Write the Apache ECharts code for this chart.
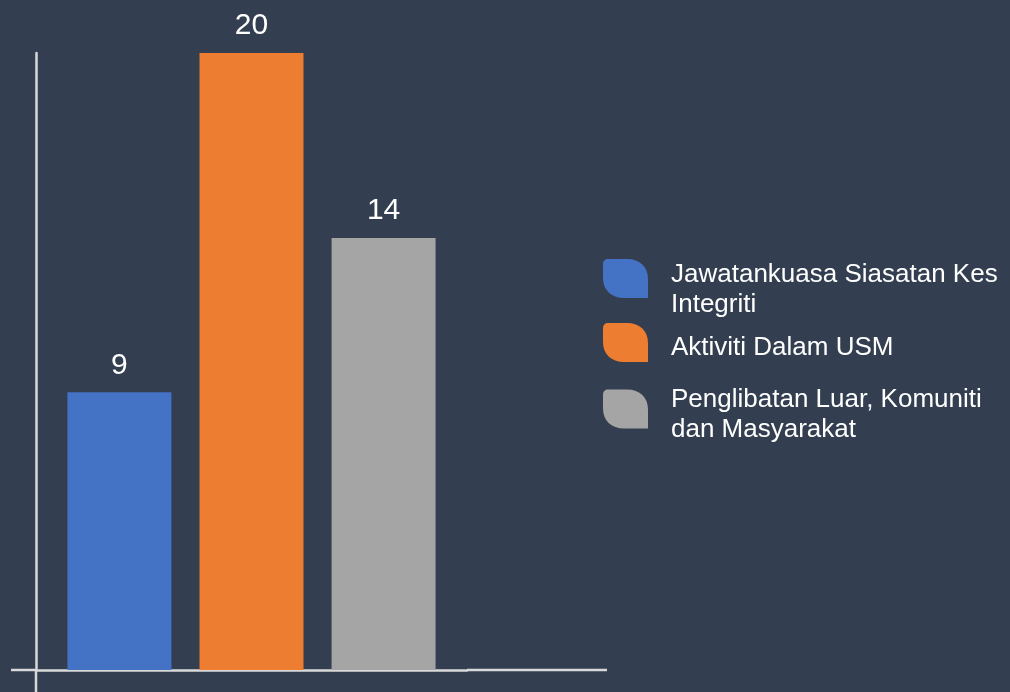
<!DOCTYPE html>
<html>
<head>
<meta charset="utf-8">
<script src="https://cdn.jsdelivr.net/npm/echarts@6/dist/echarts.min.js"></script>
<style>
html,body{margin:0;padding:0;background:#333F50;}
#chart{width:1010px;height:692px;}
</style>
</head>
<body>
<div id="chart"></div>
<script>
var categories = ['Jumlah'];
var seriesNames = ['Jawatankuasa Siasatan Kes Integriti', 'Aktiviti Dalam USM', 'Penglibatan Luar, Komuniti dan Masyarakat'];
var legendLabels = ['Jawatankuasa Siasatan Kes\nIntegriti', 'Aktiviti Dalam USM', 'Penglibatan Luar, Komuniti\ndan Masyarakat'];
var seriesValues = [[9], [20], [14]];
var seriesColors = ['#4472C4', '#ED7D31', '#A5A5A5'];

var GRID = {left: 36, right: 543, top: 53, bottom: 22};
var AXIS_COLOR = '#D9D9D9';
var AXIS_W = 2.5;
var FONT = 'Liberation Sans, Arial, sans-serif';
var iconShape = 'M5,0 L24,0 C37,0 45,8 45,20 L45,39 L21,39 C8,39 0,31 0,19 L0,5 C0,2 2,0 5,0 Z';

var chart = echarts.init(document.getElementById('chart'), null, {renderer: 'canvas'});

var series = seriesNames.map(function (n, i) {
  return {
    name: n,
    type: 'bar',
    data: seriesValues[i],
    barWidth: 104,
    barGap: '27%',
    itemStyle: {color: seriesColors[i]},
    label: {
      show: true,
      position: 'top',
      distance: 12,
      color: '#FFFFFF',
      fontSize: 30,
      fontFamily: FONT
    }
  };
});

// one legend block per series so each can sit where the original puts it;
// the icon box is taller than the drawn shape so the swatch sits a little
// above the centre of its label, as in the original
var legendTops = [259, 323, 385];
var legendBoxH = [61, 50, 51];
var legends = seriesNames.map(function (n, i) {
  return {
    orient: 'vertical',
    left: 603,
    top: legendTops[i],
    padding: 0,
    itemWidth: 45,
    itemHeight: legendBoxH[i],
    itemGap: 0,
    icon: 'path://' + iconShape + ' M0,' + legendBoxH[i],
    data: [n],
    formatter: function (name) { return legendLabels[seriesNames.indexOf(name)]; },
    textStyle: {
      color: '#FFFFFF',
      fontSize: 26,
      lineHeight: 30,
      fontFamily: FONT,
      padding: [0, 0, 0, 18]
    },
    selectedMode: false
  };
});

var option = {
  backgroundColor: '#333F50',
  animation: false,
  grid: GRID,
  legend: legends,
  xAxis: {
    type: 'category',
    data: categories,
    axisLine: {show: true, lineStyle: {color: AXIS_COLOR, width: AXIS_W}},
    axisTick: {show: false},
    axisLabel: {show: false},
    splitLine: {show: false}
  },
  yAxis: {
    type: 'value',
    min: 0,
    max: 20,
    axisLine: {show: true, lineStyle: {color: AXIS_COLOR, width: AXIS_W}},
    axisTick: {show: false},
    axisLabel: {show: false},
    splitLine: {show: false}
  },
  series: series
};
chart.setOption(option);

// axis-line extensions beyond the plot area (decorative, like the original)
var y0 = chart.convertToPixel({yAxisIndex: 0}, 0);
var gridRight = 1010 - GRID.right;
chart.setOption({
  graphic: [
    {type: 'line', shape: {x1: 11, y1: y0, x2: GRID.left, y2: y0}, style: {stroke: AXIS_COLOR, lineWidth: AXIS_W}, silent: true},
    {type: 'line', shape: {x1: gridRight, y1: y0, x2: 607, y2: y0}, style: {stroke: AXIS_COLOR, lineWidth: AXIS_W}, silent: true},
    {type: 'line', shape: {x1: GRID.left, y1: y0, x2: GRID.left, y2: 692}, style: {stroke: AXIS_COLOR, lineWidth: AXIS_W}, silent: true}
  ]
});
</script>
</body>
</html>
